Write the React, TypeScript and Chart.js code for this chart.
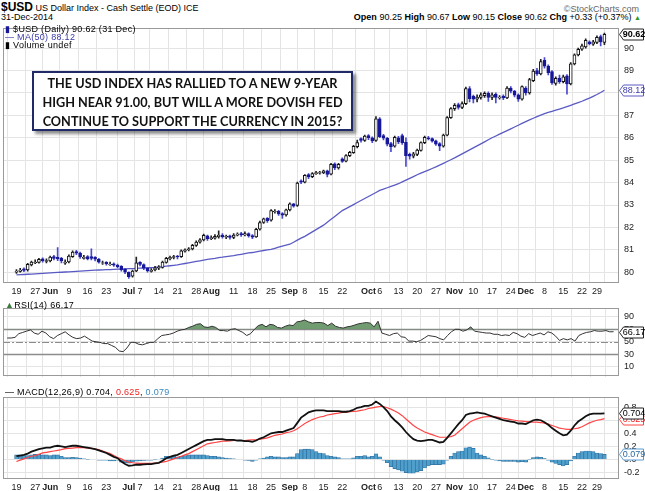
import React, { useEffect, useRef } from 'react';
import { Chart, registerables } from 'chart.js';
Chart.register(...registerables);

// ---- categories / ticks (trading-day index from 19 May 2014 to 31 Dec 2014) ----
const tickIdx = [0, 5, 9, 14, 19, 24, 30, 33, 38, 43, 48, 52, 58, 63, 68, 73, 77, 82, 87, 94, 97, 102, 107, 112, 117, 122, 127, 132, 136, 141, 146, 151, 155];
const tickText = ['19', '27', 'Jun', '9', '16', '23', 'Jul', '7', '14', '21', '28', 'Aug', '11', '18', '25', 'Sep', '8', '15', '22', 'Oct', '6', '13', '20', '27', 'Nov', '10', '17', '24', 'Dec', '8', '15', '22', '29'];
const monthNames = ['Jun', 'Jul', 'Aug', 'Sep', 'Oct', 'Nov', 'Dec'];

// ---- price series ----
const opens = [80.00,80.04,80.15,80.10,80.33,80.42,80.44,80.60,80.48,80.50,80.70,80.66,80.62,80.40,80.46,80.70,80.92,80.86,80.62,80.70,80.70,80.66,80.58,80.40,80.44,80.34,80.38,80.32,80.26,80.14,80.00,79.82,80.06,80.44,80.34,80.18,80.04,80.10,80.18,80.22,80.44,80.60,80.66,80.72,80.70,80.94,81.00,81.04,81.20,81.34,81.44,81.62,81.50,81.52,81.58,81.66,81.56,81.62,81.55,81.65,81.72,81.66,81.72,81.64,81.58,81.92,82.22,82.40,82.32,82.70,82.72,82.62,82.56,82.78,83.05,82.98,84.08,84.02,84.36,84.26,84.40,84.42,84.44,84.52,84.38,84.84,84.66,85.06,84.96,85.20,85.34,85.60,85.96,85.88,86.10,86.00,85.88,86.85,86.10,85.98,85.74,85.62,86.00,86.10,85.80,85.26,85.18,85.26,85.44,85.78,86.00,85.96,85.86,85.74,85.62,86.12,86.90,87.30,87.48,87.35,87.52,88.20,87.85,87.72,87.80,87.88,87.98,87.80,87.95,87.78,87.86,87.78,88.22,88.08,87.92,87.72,88.22,88.00,88.55,89.00,88.85,89.45,89.20,88.95,88.42,88.66,88.50,88.76,88.40,89.30,89.70,89.95,90.05,90.28,90.18,90.26,90.52,90.25];
const highs = [80.12,80.18,80.20,80.40,80.50,80.55,80.62,80.64,80.60,80.72,80.75,81.10,80.66,80.55,80.78,80.95,80.98,80.90,80.76,80.74,81.05,80.70,80.62,80.50,80.48,80.45,80.42,80.36,80.30,80.18,80.02,80.10,80.68,80.48,80.38,80.22,80.16,80.26,80.30,80.50,80.66,80.72,80.76,80.76,81.00,81.05,81.10,81.25,81.40,81.50,81.70,81.66,81.62,81.68,81.85,81.72,81.66,81.66,81.72,81.76,81.78,81.80,81.76,81.68,81.96,82.28,82.42,82.44,82.80,82.80,82.76,82.66,82.82,83.10,83.08,84.02,84.12,84.36,84.40,84.45,84.50,84.50,84.56,84.56,84.86,84.88,84.86,85.10,85.25,85.40,85.66,85.90,86.00,86.12,86.14,86.04,86.95,86.90,86.15,86.02,85.80,86.08,86.06,86.16,86.00,85.32,85.35,85.50,85.82,86.08,86.06,86.00,85.90,85.78,86.16,86.95,87.35,87.52,87.55,87.60,88.26,88.28,87.90,87.92,88.00,88.05,88.05,88.00,88.00,87.88,87.92,88.28,88.28,88.12,87.96,88.32,88.28,88.65,89.05,89.10,89.50,89.58,89.25,89.00,88.72,88.80,88.80,88.82,89.35,89.75,90.00,90.18,90.42,90.32,90.35,90.55,90.58,90.67];
const lows = [79.95,80.00,80.02,80.05,80.28,80.38,80.40,80.45,80.42,80.46,80.55,80.52,80.42,80.35,80.42,80.66,80.78,80.62,80.58,80.55,80.55,80.50,80.40,80.35,80.32,80.30,80.26,80.20,80.05,79.94,79.72,79.78,80.02,80.28,80.12,80.00,80.00,80.06,80.12,80.18,80.40,80.55,80.60,80.60,80.66,80.90,80.95,81.00,81.15,81.30,81.40,81.42,81.45,81.48,81.52,81.52,81.50,81.48,81.50,81.62,81.60,81.62,81.56,81.50,81.55,81.88,82.18,82.22,82.28,82.64,82.54,82.40,82.50,82.74,82.90,82.94,83.95,83.98,84.18,84.22,84.36,84.38,84.40,84.25,84.34,84.58,84.60,84.90,84.92,85.16,85.30,85.55,85.80,85.84,85.92,85.78,85.84,86.00,85.90,85.64,85.38,85.58,85.74,85.70,84.72,85.05,85.10,85.20,85.40,85.74,85.90,85.80,85.66,85.42,85.58,86.08,86.86,87.22,87.28,87.30,87.48,87.60,87.55,87.60,87.72,87.80,87.62,87.70,87.55,87.72,87.70,87.74,88.00,87.82,87.62,87.68,87.90,87.95,88.50,88.78,88.80,89.10,88.80,88.38,88.35,88.42,88.45,87.95,88.36,89.25,89.65,89.90,90.00,90.14,90.12,90.20,90.10,90.15];
const closes = [80.05,80.10,80.08,80.35,80.45,80.45,80.58,80.50,80.52,80.68,80.62,80.60,80.50,80.45,80.72,80.90,80.85,80.70,80.66,80.60,80.62,80.58,80.45,80.42,80.38,80.36,80.32,80.25,80.12,80.00,79.80,80.05,80.42,80.35,80.18,80.06,80.08,80.20,80.22,80.45,80.62,80.66,80.70,80.68,80.95,81.00,81.05,81.20,81.35,81.45,81.65,81.50,81.55,81.60,81.66,81.58,81.60,81.55,81.66,81.70,81.66,81.72,81.62,81.56,81.92,82.22,82.38,82.30,82.75,82.72,82.60,82.55,82.78,83.05,82.95,83.98,84.02,84.32,84.25,84.40,84.45,84.45,84.52,84.36,84.82,84.66,84.82,84.95,85.20,85.35,85.62,85.78,85.88,86.08,86.00,85.86,86.85,86.05,85.98,85.72,85.60,86.02,85.82,85.78,85.20,85.18,85.28,85.45,85.78,86.02,85.95,85.85,85.72,85.62,86.12,86.90,87.30,87.45,87.35,87.52,88.20,87.75,87.72,87.82,87.92,87.98,87.80,87.92,87.80,87.82,87.78,88.22,88.08,87.90,87.72,88.28,88.00,88.60,88.98,88.85,89.40,89.20,88.90,88.45,88.65,88.50,88.72,88.40,89.30,89.70,89.95,90.10,90.35,90.20,90.28,90.48,90.28,90.62];
const ma50 = [79.88,79.89,79.90,79.91,79.92,79.93,79.94,79.95,79.96,79.97,79.98,79.99,80.00,80.01,80.02,80.03,80.04,80.05,80.06,80.07,80.08,80.09,80.10,80.11,80.12,80.12,80.13,80.14,80.14,80.15,80.16,80.16,80.17,80.18,80.19,80.20,80.21,80.22,80.24,80.25,80.27,80.29,80.31,80.33,80.36,80.39,80.42,80.45,80.48,80.51,80.54,80.57,80.60,80.62,80.65,80.67,80.70,80.72,80.74,80.77,80.80,80.83,80.86,80.88,80.91,80.94,80.97,81.00,81.02,81.07,81.12,81.17,81.21,81.25,81.34,81.43,81.52,81.60,81.70,81.80,81.90,82.00,82.10,82.23,82.36,82.49,82.62,82.75,82.84,82.93,83.02,83.11,83.20,83.29,83.38,83.47,83.56,83.65,83.71,83.77,83.83,83.89,83.95,84.03,84.11,84.19,84.27,84.35,84.42,84.49,84.56,84.63,84.70,84.78,84.86,84.94,85.02,85.10,85.19,85.28,85.37,85.46,85.55,85.64,85.73,85.82,85.91,86.00,86.08,86.16,86.24,86.32,86.40,86.48,86.56,86.64,86.72,86.80,86.87,86.94,87.01,87.08,87.13,87.18,87.23,87.28,87.33,87.39,87.45,87.51,87.57,87.63,87.70,87.77,87.85,87.93,88.02,88.12];

// ---- RSI(14) ----
const rsi14 = [56,56,57,63,65,67,69,64,62,67,64,58,55,60,63,66,61,57,55,56,59,55,51,50,49,47,47,44,41,35,34,40,49,49,46,45,47,49,49,55,60,61,62,64,67,69,70,73,75,78,79,74,73,75,73,68,68,67,70,71,68,65,60,63,70,76,78,74,78,77,73,72,75,77,76,82,83,85,82,80,81,81,80,76,80,75,73,72,74,75,77,79,80,81,80,74,83,64,62,60,63,64,58,57,51,51,50,52,56,60,59,58,55,53,60,66,70,70,67,69,74,67,66,65,64,64,62,62,60,61,60,65,63,59,57,63,60,62,64,61,66,64,59,52,55,53,55,51,60,63,65,66,68,67,67,68,66,66.17];

// ---- MACD(12,26,9) ----
const macdLine = [0.05,0.06,0.07,0.09,0.12,0.14,0.16,0.17,0.18,0.18,0.20,0.21,0.20,0.19,0.20,0.21,0.21,0.20,0.19,0.18,0.17,0.16,0.14,0.12,0.10,0.07,0.04,0.02,-0.03,-0.07,-0.095,-0.09,-0.08,-0.08,-0.075,-0.07,-0.07,-0.06,-0.05,-0.02,0.02,0.04,0.06,0.07,0.10,0.13,0.16,0.19,0.22,0.25,0.28,0.30,0.30,0.31,0.31,0.31,0.30,0.30,0.30,0.29,0.29,0.28,0.28,0.27,0.29,0.32,0.34,0.37,0.40,0.41,0.42,0.42,0.44,0.46,0.48,0.56,0.64,0.68,0.72,0.74,0.75,0.75,0.75,0.74,0.74,0.74,0.74,0.73,0.73,0.74,0.76,0.79,0.80,0.82,0.82,0.84,0.885,0.85,0.80,0.74,0.66,0.60,0.55,0.49,0.42,0.36,0.31,0.29,0.28,0.29,0.30,0.30,0.28,0.26,0.27,0.33,0.40,0.47,0.54,0.60,0.68,0.70,0.71,0.72,0.71,0.70,0.68,0.66,0.64,0.62,0.60,0.59,0.58,0.57,0.55,0.55,0.54,0.57,0.60,0.61,0.60,0.57,0.53,0.48,0.44,0.40,0.37,0.38,0.44,0.52,0.58,0.62,0.66,0.69,0.70,0.70,0.70,0.704];
const signalLine = [-0.03,-0.01,0.01,0.03,0.05,0.06,0.08,0.10,0.11,0.12,0.13,0.14,0.15,0.165,0.17,0.175,0.18,0.18,0.18,0.175,0.17,0.16,0.15,0.13,0.11,0.09,0.06,0.03,0.01,-0.02,-0.04,-0.05,-0.055,-0.06,-0.06,-0.06,-0.06,-0.055,-0.05,-0.04,-0.03,-0.01,0.01,0.03,0.05,0.07,0.09,0.12,0.15,0.18,0.21,0.24,0.25,0.26,0.27,0.28,0.28,0.285,0.29,0.29,0.29,0.29,0.295,0.30,0.30,0.31,0.32,0.33,0.35,0.37,0.38,0.39,0.41,0.42,0.44,0.47,0.51,0.55,0.58,0.61,0.63,0.65,0.66,0.68,0.69,0.70,0.71,0.72,0.72,0.73,0.735,0.74,0.75,0.76,0.78,0.79,0.80,0.81,0.81,0.79,0.77,0.74,0.71,0.67,0.62,0.57,0.52,0.48,0.45,0.42,0.40,0.38,0.36,0.34,0.34,0.34,0.35,0.37,0.42,0.47,0.52,0.57,0.60,0.62,0.64,0.65,0.655,0.655,0.65,0.64,0.63,0.62,0.61,0.60,0.59,0.585,0.58,0.575,0.57,0.57,0.565,0.555,0.54,0.52,0.50,0.48,0.47,0.46,0.46,0.47,0.48,0.50,0.53,0.56,0.58,0.60,0.61,0.625];
const histogram = [0.07,0.07,0.06,0.06,0.07,0.08,0.08,0.07,0.07,0.06,0.07,0.07,0.05,0.03,0.03,0.035,0.03,0.02,0.01,0.005,0.0,0.0,-0.01,-0.01,-0.01,-0.02,-0.02,-0.01,-0.04,-0.05,-0.055,-0.04,-0.025,-0.02,-0.015,-0.01,-0.01,-0.005,0.0,0.02,0.05,0.05,0.05,0.04,0.05,0.06,0.07,0.07,0.07,0.07,0.07,0.06,0.05,0.05,0.04,0.03,0.02,0.015,0.01,0.0,0.0,-0.01,-0.015,-0.03,-0.01,0.01,0.02,0.04,0.05,0.04,0.04,0.03,0.03,0.04,0.04,0.09,0.15,0.16,0.16,0.15,0.12,0.10,0.09,0.06,0.05,0.04,0.03,0.01,0.01,0.01,0.025,0.05,0.05,0.06,0.04,0.05,0.085,0.04,-0.01,-0.05,-0.11,-0.14,-0.16,-0.18,-0.20,-0.21,-0.21,-0.19,-0.17,-0.13,-0.10,-0.08,-0.08,-0.08,-0.07,-0.01,0.05,0.10,0.12,0.13,0.18,0.19,0.17,0.10,0.07,0.05,0.025,0.005,-0.01,-0.02,-0.03,-0.03,-0.03,-0.03,-0.04,-0.035,-0.04,-0.005,0.03,0.04,0.035,0.015,-0.01,-0.04,-0.06,-0.08,-0.10,-0.08,-0.02,0.05,0.10,0.12,0.13,0.13,0.12,0.10,0.09,0.079];

const priceTicks = [80, 81, 82, 83, 84, 85, 86, 87, 88, 89, 90];
const rsiTicks = [10, 30, 50, 70, 90];
const macdTicks = [-0.2, 0, 0.2, 0.4, 0.6, 0.8];

const FONT = '"Liberation Sans", Arial, sans-serif';
const W = 645;
const AXIS_W = 26;
const X_MIN = -1.1;
const X_MAX = 158.4;
const GRID = '#e4e4e4';

const labelFor = (v: number) => {
  const k = tickIdx.indexOf(Math.round(v));
  return k >= 0 ? tickText[k] : '';
};

function xAxis(show: boolean, height: number) {
  return {
    type: 'linear',
    min: X_MIN,
    max: X_MAX,
    afterBuildTicks: (s: any) => { s.ticks = tickIdx.map((v) => ({ value: v })); },
    afterFit: (s: any) => { s.height = height; },
    grid: { color: GRID, drawTicks: false },
    border: { display: false },
    ticks: {
      display: show,
      autoSkip: false,
      maxRotation: 0,
      padding: 3,
      color: '#222',
      font: (c: any) => ({ family: FONT, size: 9, weight: c.tick && monthNames.includes(labelFor(c.tick.value)) ? 'bold' : 'normal' }),
      callback: (v: any) => labelFor(Number(v)),
    },
  };
}

function yAxis(min: number, max: number, ticks: number[], fmt: (v: number) => string) {
  return {
    type: 'linear',
    position: 'right',
    min,
    max,
    afterBuildTicks: (s: any) => { s.ticks = ticks.map((v) => ({ value: v })); },
    afterFit: (s: any) => { s.width = AXIS_W; },
    grid: { color: GRID, drawTicks: false },
    border: { display: false },
    ticks: { padding: 5, color: '#222', font: { family: FONT, size: 9 }, callback: (v: any) => fmt(Number(v)) },
  };
}

const framePlugin = {
  id: 'frame',
  afterDraw(chart: any) {
    const { ctx, chartArea: a } = chart;
    ctx.save();
    ctx.strokeStyle = '#9a9a9a';
    ctx.lineWidth = 1;
    ctx.strokeRect(Math.round(a.left) + 0.5, Math.round(a.top) + 0.5, Math.round(a.right - a.left) - 1, Math.round(a.bottom - a.top) - 1);
    ctx.restore();
  },
};

const tagPlugin = {
  id: 'tags',
  afterDraw(chart: any, _args: any, opts: any) {
    const items = (opts && opts.items) || [];
    const { ctx } = chart;
    const y = chart.scales.y;
    const r = chart.chartArea.right;
    ctx.save();
    items.forEach((t: any) => {
      const py = Math.round(y.getPixelForValue(t.value)) + 0.5;
      const x0 = Math.round(r) + 0.5;
      const x1 = x0 + 4;
      const x2 = chart.width - 1.5;
      const h = 5.5;
      ctx.beginPath();
      ctx.moveTo(x0, py);
      ctx.lineTo(x1, py - h);
      ctx.lineTo(x2, py - h);
      ctx.lineTo(x2, py + h);
      ctx.lineTo(x1, py + h);
      ctx.closePath();
      ctx.fillStyle = '#fff';
      ctx.fill();
      ctx.strokeStyle = t.border;
      ctx.lineWidth = 1;
      ctx.stroke();
      ctx.fillStyle = t.color;
      ctx.font = `${t.bold ? 'bold ' : ''}9px ${FONT}`;
      ctx.textAlign = 'center';
      ctx.textBaseline = 'middle';
      ctx.fillText(t.text, (x1 + x2) / 2 + 0.5, py + 0.5);
    });
    ctx.restore();
  },
};

const guidePlugin = {
  id: 'guides',
  beforeDatasetsDraw(chart: any) {
    const { ctx, chartArea: a } = chart;
    const y = chart.scales.y;
    ctx.save();
    [70, 30].forEach((v) => {
      const py = Math.round(y.getPixelForValue(v)) + 0.5;
      ctx.strokeStyle = '#8c8c8c';
      ctx.lineWidth = 1.5;
      ctx.beginPath();
      ctx.moveTo(a.left, py);
      ctx.lineTo(a.right, py);
      ctx.stroke();
    });
    const p50 = Math.round(y.getPixelForValue(50)) + 0.5;
    ctx.strokeStyle = '#8c8c8c';
    ctx.lineWidth = 1;
    ctx.setLineDash([7, 2, 2, 2]);
    ctx.beginPath();
    ctx.moveTo(a.left, p50);
    ctx.lineTo(a.right, p50);
    ctx.stroke();
    ctx.restore();
  },
};

const baseOptions = {
  responsive: false,
  animation: false,
  events: [],
  plugins: { legend: { display: false }, tooltip: { enabled: false } },
};

export default function App() {
  const mainRef = useRef<HTMLCanvasElement>(null);
  const rsiRef = useRef<HTMLCanvasElement>(null);
  const macdRef = useRef<HTMLCanvasElement>(null);

  useEffect(() => {
    const up = closes.map((c, i) => c >= opens[i]);
    const bodyFill = up.map((u) => (u ? '#ffffff' : '#17179a'));
    const bodyEdge = up.map((u) => (u ? '#111111' : '#17179a'));
    const wickCol = up.map((u) => (u ? '#222222' : '#4a4ad0'));

    const main = new Chart(mainRef.current as HTMLCanvasElement, {
      type: 'bar',
      data: {
        datasets: [
          {
            type: 'line',
            data: ma50.map((y, i) => ({ x: i, y })),
            borderColor: '#5a5ac4',
            borderWidth: 1.3,
            pointRadius: 0,
            tension: 0,
            order: 3,
          } as any,
          {
            type: 'bar',
            data: lows.map((l, i) => ({ x: i, y: [l, highs[i]] })),
            backgroundColor: wickCol,
            borderWidth: 0,
            barThickness: 1,
            grouped: false,
            order: 2,
          } as any,
          {
            type: 'bar',
            data: opens.map((o, i) => ({ x: i, y: [Math.min(o, closes[i]), Math.max(o, closes[i])] })),
            backgroundColor: bodyFill,
            borderColor: bodyEdge,
            borderWidth: 1,
            borderSkipped: false,
            barThickness: 3,
            grouped: false,
            order: 1,
          } as any,
        ],
      },
      options: {
        ...baseOptions,
        layout: { padding: { top: 6, left: 3, right: 0, bottom: 0 } },
        scales: {
          x: xAxis(true, 15),
          y: yAxis(79.52, 90.88, priceTicks, (v) => String(v)),
        },
        plugins: {
          ...baseOptions.plugins,
          tags: {
            items: [
              { value: 88.12, text: '88.12', border: '#5a5ac4', color: '#3a3aa8', bold: false },
              { value: 90.62, text: '90.62', border: '#222', color: '#000', bold: true },
            ],
          },
        },
      } as any,
      plugins: [framePlugin, tagPlugin],
    });

    const rsi = new Chart(rsiRef.current as HTMLCanvasElement, {
      type: 'line',
      data: {
        datasets: [
          {
            data: rsi14.map((y, i) => ({ x: i, y })),
            borderColor: '#333333',
            borderWidth: 1,
            pointRadius: 0,
            tension: 0,
            fill: { target: { value: 70 }, above: 'rgba(98,145,98,0.9)', below: 'rgba(0,0,0,0)' },
          } as any,
        ],
      },
      options: {
        ...baseOptions,
        layout: { padding: { top: 0, left: 3, right: 0, bottom: 0 } },
        scales: {
          x: xAxis(false, 1),
          y: yAxis(-6.25, 103.75, rsiTicks, (v) => String(v)),
        },
        plugins: {
          ...baseOptions.plugins,
          tags: { items: [{ value: 66.17, text: '66.17', border: '#222', color: '#000', bold: false }] },
        },
      } as any,
      plugins: [guidePlugin, framePlugin, tagPlugin],
    });

    const macd = new Chart(macdRef.current as HTMLCanvasElement, {
      type: 'bar',
      data: {
        datasets: [
          {
            type: 'line',
            data: macdLine.map((y, i) => ({ x: i, y })),
            borderColor: '#111111',
            borderWidth: 1.8,
            pointRadius: 0,
            tension: 0,
            order: 1,
          } as any,
          {
            type: 'line',
            data: signalLine.map((y, i) => ({ x: i, y })),
            borderColor: '#ff4444',
            borderWidth: 1.2,
            pointRadius: 0,
            tension: 0,
            order: 2,
          } as any,
          {
            type: 'bar',
            data: histogram.map((y, i) => ({ x: i, y })),
            backgroundColor: '#4f9fcd',
            borderColor: '#2f6f9f',
            borderWidth: 0.7,
            barPercentage: 1,
            categoryPercentage: 1,
            order: 3,
          } as any,
        ],
      },
      options: {
        ...baseOptions,
        layout: { padding: { top: 0, left: 3, right: 0, bottom: 0 } },
        scales: {
          x: xAxis(true, 12),
          y: yAxis(-0.298, 0.949, macdTicks, (v) => v.toFixed(1)),
        },
        plugins: {
          ...baseOptions.plugins,
          tags: {
            items: [
              { value: 0.079, text: '0.079', border: '#5b9bd0', color: '#2a6aa0', bold: false },
              { value: 0.625, text: '0.625', border: '#ff4444', color: '#ee2222', bold: false },
              { value: 0.704, text: '0.704', border: '#222', color: '#000', bold: false },
            ],
          },
        },
      } as any,
      plugins: [framePlugin, tagPlugin],
    });

    return () => {
      main.destroy();
      rsi.destroy();
      macd.destroy();
    };
  }, []);

  const abs = (l: number, t: number, extra: any = {}) => ({ position: 'absolute' as const, left: l, top: t, whiteSpace: 'nowrap' as const, ...extra });

  return (
    <div style={{ position: 'absolute', left: 0, top: 0, width: W, height: 491, background: '#fff', overflow: 'hidden', fontFamily: FONT, color: '#000' }}>
      <div style={abs(1, 0, { fontSize: 9, lineHeight: '14px' })}>
        <span style={{ fontSize: 12, fontWeight: 'bold' }}>$USD</span> US Dollar Index - Cash Settle (EOD) ICE
      </div>
      <div style={abs(1, 12, { fontSize: 9, lineHeight: '11px' })}>31-Dec-2014</div>
      <div style={{ position: 'absolute', right: 6, top: 4, fontSize: 9, lineHeight: '11px', color: '#666', whiteSpace: 'nowrap' }}>©StockCharts.com</div>
      <div style={{ position: 'absolute', right: 4, top: 12, fontSize: 9, lineHeight: '11px', whiteSpace: 'nowrap' }}>
        <b>Open</b> 90.25 <b>High</b> 90.67 <b>Low</b> 90.15 <b>Close</b> 90.62 <b>Chg</b> +0.33 (+0.37%) <span style={{ color: '#2a9a2a', fontSize: 7 }}>▲</span>
      </div>

      <canvas ref={mainRef} width={W} height={280} style={{ position: 'absolute', left: 0, top: 18, width: W, height: 280 }} />
      <canvas ref={rsiRef} width={W} height={89} style={{ position: 'absolute', left: 0, top: 298, width: W, height: 89 }} />
      <canvas ref={macdRef} width={W} height={104} style={{ position: 'absolute', left: 0, top: 387, width: W, height: 104 }} />

      <div style={abs(5, 25, { fontSize: 9, lineHeight: '8px', letterSpacing: '0.3px' })}>
        <div><span style={{ color: '#17179a' }}>▮</span> $USD (Daily) 90.62 (31 Dec)</div>
        <div style={{ color: '#3a3aa8' }}>— MA(50) 88.12</div>
        <div>▮ Volume undef</div>
      </div>
      <div style={abs(5, 300, { fontSize: 9, lineHeight: '10px', letterSpacing: '0.3px' })}>
        <span style={{ color: '#3d7a3d' }}>▲</span>RSI(14) 66.17
      </div>
      <div style={abs(5, 387, { fontSize: 9, lineHeight: '10px', letterSpacing: '0.3px' })}>
        — MACD(12,26,9) 0.704, <span style={{ color: '#ee2222' }}>0.625</span>, <span style={{ color: '#3a8ac0' }}>0.079</span>
      </div>

      <div
        style={{
          position: 'absolute', left: 32, top: 71, width: 317, height: 55, border: '2px solid #1f2a66', background: '#fff',
          boxShadow: '3px 3px 3px rgba(0,0,0,0.45)', textAlign: 'center', fontFamily: 'Lato, "Open Sans", sans-serif', fontWeight: 'bold',
          fontSize: 12.7, lineHeight: '19px', paddingTop: 1, color: '#111',
        }}
      >
        <div>THE USD INDEX HAS RALLIED TO A NEW 9-YEAR</div>
        <div>HIGH NEAR 91.00, BUT WILL A MORE DOVISH FED</div>
        <div>CONTINUE TO SUPPORT THE CURRENCY IN 2015?</div>
      </div>
    </div>
  );
}
